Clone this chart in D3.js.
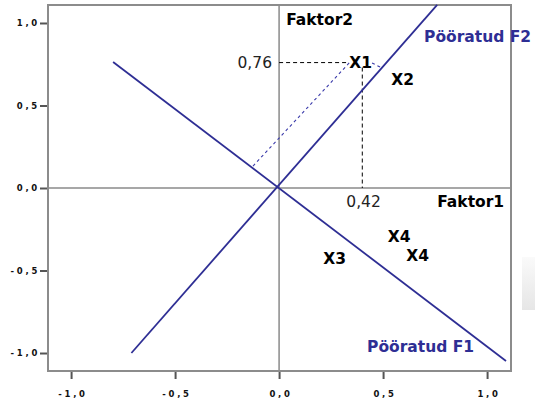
<!DOCTYPE html>
<html>
<head>
<meta charset="utf-8">
<script src="https://cdn.jsdelivr.net/npm/d3@7"></script>
<style>
  body { margin: 0; background: #fff; }
  svg { display: block; }
  .tick text { font-family: "DejaVu Sans", Verdana, sans-serif; font-weight: bold; font-size: 8.5px; letter-spacing: 2.7px; fill: #111; }
</style>
</head>
<body>
<script>
const tickValues = [-1, -0.5, 0, 0.5, 1];

// rotated factor axes (endpoints in loading units)
const rotatedAxes = [
  { name: 'Pööratud F1', from: [-0.798, 0.764], to: [1.091, -1.048] },
  { name: 'Pööratud F2', from: [-0.71, -1.0], to: [0.76, 1.11] }
];

// dashed guide lines for X1
const guideLines = [
  { from: [0, 0.76], to: [0.33, 0.76] },
  { from: [0.40, 0.73], to: [0.40, 0] }
];
const projLines = [
  { from: [0.337, 0.758], to: [-0.13, 0.127] },
  { from: [0.447, 0.758], to: [0.495, 0.727] }
];

// variable labels
const varLabels = [
  { text: 'X1', x: 0.392, y: 0.76 },
  { text: 'X2', x: 0.594, y: 0.655 },
  { text: 'X4', x: 0.577, y: -0.297 },
  { text: 'X4', x: 0.666, y: -0.412 },
  { text: 'X3', x: 0.267, y: -0.43 }
];

const axisNames = [
  { text: 'Faktor2', x: 0.034, y: 1.018, anchor: 'start' },
  { text: 'Faktor1', x: 1.082, y: -0.085, anchor: 'end' }
];
const rotNames = [
  { text: 'Pööratud F2', x: 0.697, y: 0.915 },
  { text: 'Pööratud F1', x: 0.423, y: -0.964 }
];
const valueLabels = [
  { text: '0,76', x: -0.034, y: 0.76, anchor: 'end' },
  { text: '0,42', x: 0.406, y: -0.085, anchor: 'middle' }
];

const width = 535, height = 402;
const margin = { top: 5, right: 24, bottom: 31, left: 48 };
const navy = '#2e2e94';
const font = '"DejaVu Sans", Verdana, sans-serif';

const svg = d3.select('body')
  .append('svg')
  .attr('width', width)
  .attr('height', height);

const x = d3.scaleLinear()
  .domain([-1.111, 1.115])
  .range([margin.left, width - margin.right]);

const y = d3.scaleLinear()
  .domain([-1.109, 1.109])
  .range([height - margin.bottom, margin.top]);

// faint grey artefact at the right edge
const grad = svg.append('defs').append('linearGradient')
  .attr('id', 'fade').attr('x1', 0).attr('y1', 0).attr('x2', 0).attr('y2', 1);
grad.append('stop').attr('offset', 0).attr('stop-color', '#fafafa');
grad.append('stop').attr('offset', 1).attr('stop-color', '#e6e6e6');
svg.append('rect')
  .attr('x', 522).attr('y', 257).attr('width', 13).attr('height', 53)
  .attr('fill', 'url(#fade)');

const fmt = d => d3.format('.1f')(d).replace('.', ',').replace('−', '-');

const xAxis = svg.append('g')
  .attr('transform', `translate(0,${height - margin.bottom})`)
  .call(d3.axisBottom(x).tickValues(tickValues).tickFormat(fmt).tickSize(8).tickSizeOuter(0));
xAxis.select('.domain').remove();
xAxis.selectAll('.tick line').attr('stroke', '#555').attr('stroke-width', 2);
xAxis.selectAll('.tick text').attr('y', 23).attr('dy', '0.35em').attr('dx', 1.4);

const yAxis = svg.append('g')
  .attr('transform', `translate(${margin.left},0)`)
  .call(d3.axisLeft(y).tickValues(tickValues).tickFormat(fmt).tickSize(8).tickSizeOuter(0));
yAxis.select('.domain').remove();
yAxis.selectAll('.tick line').attr('stroke', '#555').attr('stroke-width', 2);
yAxis.selectAll('.tick text').attr('x', -8).attr('dy', '0.35em');

// zero lines
svg.append('line')
  .attr('x1', x(0)).attr('x2', x(0)).attr('y1', y.range()[1]).attr('y2', y.range()[0])
  .attr('stroke', '#8a8a8a').attr('stroke-width', 1.5);
svg.append('line')
  .attr('x1', x.range()[0]).attr('x2', x.range()[1]).attr('y1', y(0)).attr('y2', y(0))
  .attr('stroke', '#8a8a8a').attr('stroke-width', 1.5);

// frame
svg.append('rect')
  .attr('x', x.range()[0]).attr('y', y.range()[1])
  .attr('width', x.range()[1] - x.range()[0])
  .attr('height', y.range()[0] - y.range()[1])
  .attr('fill', 'none')
  .attr('stroke', '#8c8c8c')
  .attr('stroke-width', 2);

// guide lines
svg.append('g')
  .selectAll('line')
  .data(guideLines)
  .join('line')
  .attr('x1', d => x(d.from[0])).attr('y1', d => y(d.from[1]))
  .attr('x2', d => x(d.to[0])).attr('y2', d => y(d.to[1]))
  .attr('stroke', '#000').attr('stroke-width', 1)
  .attr('stroke-dasharray', '4,3');

svg.append('g')
  .selectAll('line')
  .data(projLines)
  .join('line')
  .attr('x1', d => x(d.from[0])).attr('y1', d => y(d.from[1]))
  .attr('x2', d => x(d.to[0])).attr('y2', d => y(d.to[1]))
  .attr('stroke', '#3a3aaa').attr('stroke-width', 1.1)
  .attr('stroke-dasharray', '3,3');

// rotated axes
svg.append('g')
  .selectAll('line')
  .data(rotatedAxes)
  .join('line')
  .attr('x1', d => x(d.from[0])).attr('y1', d => y(d.from[1]))
  .attr('x2', d => x(d.to[0])).attr('y2', d => y(d.to[1]))
  .attr('stroke', navy).attr('stroke-width', 1.8);

// texts
svg.append('g')
  .selectAll('text')
  .data(varLabels)
  .join('text')
  .attr('x', d => x(d.x)).attr('y', d => y(d.y))
  .attr('dy', '0.35em')
  .attr('text-anchor', 'middle')
  .attr('font-family', font).attr('font-weight', 'bold').attr('font-size', 15.5)
  .text(d => d.text);

svg.append('g')
  .selectAll('text')
  .data(axisNames)
  .join('text')
  .attr('x', d => x(d.x)).attr('y', d => y(d.y))
  .attr('dy', '0.35em')
  .attr('text-anchor', d => d.anchor)
  .attr('font-family', font).attr('font-weight', 'bold').attr('font-size', 15.5)
  .text(d => d.text);

svg.append('g')
  .selectAll('text')
  .data(rotNames)
  .join('text')
  .attr('x', d => x(d.x)).attr('y', d => y(d.y))
  .attr('dy', '0.35em')
  .attr('fill', navy)
  .attr('font-family', font).attr('font-weight', 'bold').attr('font-size', 15.5)
  .text(d => d.text);

svg.append('g')
  .selectAll('text')
  .data(valueLabels)
  .join('text')
  .attr('x', d => x(d.x)).attr('y', d => y(d.y))
  .attr('dy', '0.35em')
  .attr('text-anchor', d => d.anchor)
  .attr('fill', '#222')
  .attr('font-family', font).attr('font-size', 15.5)
  .text(d => d.text);
</script>
</body>
</html>
